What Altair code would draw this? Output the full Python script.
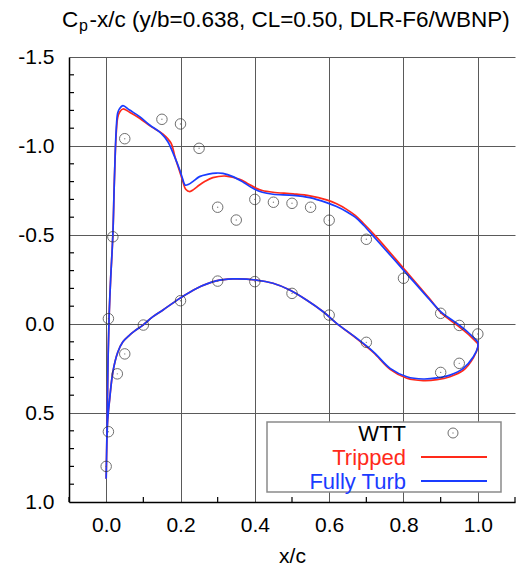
import altair as alt
import pandas as pd

# ---------------- data ----------------
# Fully Turb (blue): from upper-surface TE -> LE -> lower-surface TE
blue_x = [1.0, 0.97, 0.943, 0.9, 0.871, 0.8, 0.728, 0.692, 0.67, 0.647, 0.62, 0.593,
          0.548, 0.503, 0.449, 0.42, 0.395, 0.37, 0.341, 0.314, 0.296, 0.275, 0.251,
          0.233, 0.222, 0.213, 0.205, 0.198, 0.184, 0.166, 0.148, 0.117, 0.09, 0.063,
          0.045, 0.036, 0.031, 0.027, 0.022, 0.018, 0.012, 0.008, 0.005, 0.003, 0.001,
          0.0,
          0.002, 0.004, 0.009, 0.018, 0.031, 0.045, 0.063, 0.076, 0.099, 0.125, 0.153,
          0.198, 0.243, 0.296, 0.341, 0.404, 0.449, 0.494, 0.539, 0.584, 0.62, 0.674,
          0.719, 0.764, 0.809, 0.853, 0.89, 0.925, 0.961, 0.988, 1.0, 1.0]
blue_cp = [0.10, 0.04, -0.004, -0.07, -0.135, -0.303, -0.472, -0.556, -0.60, -0.631,
           -0.66, -0.682, -0.71, -0.723, -0.729, -0.74, -0.762, -0.795, -0.828, -0.846,
           -0.848, -0.842, -0.828, -0.80, -0.785, -0.78, -0.82, -0.865, -0.94, -1.024,
           -1.071, -1.118, -1.165, -1.202, -1.227, -1.21, -1.185, -1.09, -0.8, -0.5,
           -0.25, -0.05, 0.2, 0.5, 0.75,
           0.87,
           0.65, 0.54, 0.43, 0.27, 0.16, 0.10, 0.062, 0.04, 0.006, -0.04, -0.079,
           -0.144, -0.20, -0.242, -0.253, -0.247, -0.229, -0.191, -0.135, -0.069,
           -0.004, 0.08, 0.156, 0.249, 0.296, 0.309, 0.303, 0.287, 0.249, 0.184, 0.13,
           0.10]

# Tripped (red)
red_x = [1.0, 0.97, 0.943, 0.9, 0.871, 0.8, 0.728, 0.692, 0.67, 0.647, 0.62, 0.593,
         0.548, 0.503, 0.449, 0.42, 0.404, 0.38, 0.359, 0.323, 0.287, 0.265, 0.251,
         0.235, 0.225, 0.214, 0.205, 0.198, 0.185, 0.175, 0.153, 0.12, 0.09, 0.063,
         0.045, 0.036, 0.031, 0.027, 0.022, 0.018, 0.012, 0.008, 0.005, 0.003, 0.001,
         0.0,
         0.002, 0.004, 0.009, 0.018, 0.031, 0.045, 0.063, 0.076, 0.099, 0.125, 0.153,
         0.198, 0.243, 0.296, 0.341, 0.404, 0.449, 0.494, 0.539, 0.584, 0.62, 0.674,
         0.719, 0.764, 0.809, 0.853, 0.89, 0.925, 0.961, 0.988, 1.0, 1.0]
red_cp = [0.11, 0.05, 0.005, -0.065, -0.14, -0.313, -0.487, -0.566, -0.61, -0.644,
          -0.675, -0.697, -0.72, -0.731, -0.74, -0.75, -0.762, -0.79, -0.813, -0.831,
          -0.822, -0.80, -0.781, -0.755, -0.744, -0.757, -0.81, -0.856, -0.94, -1.015,
          -1.067, -1.11, -1.156, -1.19, -1.208, -1.19, -1.16, -1.07, -0.8, -0.5,
          -0.25, -0.05, 0.2, 0.5, 0.75,
          0.87,
          0.65, 0.54, 0.43, 0.27, 0.16, 0.10, 0.062, 0.04, 0.006, -0.04, -0.079,
          -0.144, -0.20, -0.242, -0.253, -0.247, -0.229, -0.191, -0.135, -0.069,
          -0.004, 0.082, 0.16, 0.255, 0.305, 0.318, 0.313, 0.296, 0.26, 0.19, 0.13,
          0.11]

# WTT experiment
wtt_x = [0.0, 0.006, 0.03, 0.05, 0.1, 0.2, 0.3, 0.4, 0.5, 0.6, 0.7, 0.9, 0.95,
         0.006, 0.018, 0.05, 0.15, 0.2, 0.25, 0.3, 0.35, 0.4, 0.45, 0.5, 0.55, 0.6,
         0.7, 0.8, 0.9, 0.95, 1.0]
wtt_cp = [0.80, 0.605, 0.28, 0.168, 0.006, -0.131, -0.241, -0.238, -0.172, -0.05,
          0.103, 0.272, 0.221,
          -0.03, -0.49, -1.041, -1.15, -1.124, -0.987, -0.656, -0.584, -0.70, -0.684,
          -0.678, -0.656, -0.583, -0.476, -0.257, -0.06, 0.008, 0.056]

x_major = [0.0, 0.2, 0.4, 0.6, 0.8, 1.0]
y_major = [-1.5, -1.0, -0.5, 0.0, 0.5, 1.0]
x_minor = [-0.1, 0.1, 0.3, 0.5, 0.7, 0.9, 1.1]
y_minor = [-1.4, -1.3, -1.2, -1.1, -0.9, -0.8, -0.7, -0.6, -0.4, -0.3, -0.2, -0.1,
           0.1, 0.2, 0.3, 0.4, 0.6, 0.7, 0.8, 0.9]

legend_labels = ["WTT", "Tripped", "Fully Turb"]
title_main = "C"
title_sub = "p"
title_rest = "-x/c (y/b=0.638, CL=0.50, DLR-F6/WBNP)"

RED = "#ff2a1a"
BLUE = "#1a3cff"
FONT = "Liberation Sans"
W, H = 446, 445

# ---------------- tables ----------------
def sdf(xs, cps):
    return pd.DataFrame({"x": xs, "cp": cps, "i": list(range(len(xs)))})

red_df = sdf(red_x, red_cp)
blue_df = sdf(blue_x, blue_cp)
wtt_df = pd.DataFrame({"x": wtt_x, "cp": wtt_cp})
xmin_df = pd.DataFrame({"x": x_minor})
ymin_df = pd.DataFrame({"cp": y_minor})
one = pd.DataFrame({"k": [0]})

xscale = alt.Scale(domain=[-0.1, 1.1], nice=False, zero=False)
yscale = alt.Scale(domain=[-1.5, 1.0], reverse=True, nice=False, zero=False)

xaxis = alt.Axis(values=x_major, format=".1f", grid=True, ticks=False,
                 gridColor="#5a5a5a", gridWidth=1, domainColor="black",
                 domainWidth=1.5, labelPadding=12, labelFontSize=21,
                 labelFont=FONT, labelColor="black", title="x/c",
                 titleFont=FONT, titleFontSize=21, titleFontWeight="normal",
                 titleColor="black", titlePadding=10)
yaxis = alt.Axis(values=y_major, grid=True, ticks=False,
                 gridColor="#5a5a5a", gridWidth=1, domainColor="black",
                 domainWidth=1.5, labelPadding=15, labelFontSize=21,
                 labelFont=FONT, labelColor="black", title=None,
                 labelExpr="datum.value < 0 ? '-' + format(-datum.value, '.1f') : format(datum.value, '.1f')")


def X(f="x"):
    return alt.X(f"{f}:Q", scale=xscale, axis=xaxis)


def Y(f="cp"):
    return alt.Y(f"{f}:Q", scale=yscale, axis=yaxis)


red_line = alt.Chart(red_df).mark_line(color=RED, strokeWidth=1.7,
                                       interpolate="catmull-rom").encode(
    x=X(), y=Y(), order="i:Q")
blue_line = alt.Chart(blue_df).mark_line(color=BLUE, strokeWidth=1.7,
                                         interpolate="catmull-rom").encode(
    x=X(), y=Y(), order="i:Q")
wtt_pts = alt.Chart(wtt_df).mark_point(shape="circle", size=110, filled=False,
                                       color="#333333", strokeWidth=1).encode(
    x=X(), y=Y())
wtt_dots = alt.Chart(wtt_df).mark_point(shape="circle", size=2, filled=True,
                                        color="#555555").encode(x=X(), y=Y())

xminor = alt.Chart(xmin_df).mark_rule(color="black", strokeWidth=1.2).encode(
    x=X(), y=alt.value(H - 5), y2=alt.value(H))
yminor = alt.Chart(ymin_df).mark_rule(color="black", strokeWidth=1.2).encode(
    y=Y(), x=alt.value(0), x2=alt.value(5))

# ---- custom legend box ----
box = alt.Chart(one).mark_rect(fill="white", stroke="#8a8a8a", strokeWidth=1.5).encode(
    x=alt.value(198), x2=alt.value(432), y=alt.value(365), y2=alt.value(435))
leg_txt_colors = ["black", RED, BLUE]
leg_y = [376, 400, 424]
leg_layers = []
for lab, col, yy in zip(legend_labels, leg_txt_colors, leg_y):
    leg_layers.append(alt.Chart(one).mark_text(
        text=lab, align="right", baseline="middle", font=FONT, fontSize=22,
        color=col).encode(x=alt.value(337), y=alt.value(yy + 1)))
leg_layers.append(alt.Chart(one).mark_point(shape="circle", size=100, filled=False,
                                            color="#333333", strokeWidth=1).encode(
    x=alt.value(384), y=alt.value(376)))
leg_layers.append(alt.Chart(one).mark_point(shape="circle", size=2, filled=True,
                                            color="#555555").encode(
    x=alt.value(384), y=alt.value(376)))
leg_layers.append(alt.Chart(one).mark_rule(color=RED, strokeWidth=1.8).encode(
    x=alt.value(352), x2=alt.value(418), y=alt.value(400)))
leg_layers.append(alt.Chart(one).mark_rule(color=BLUE, strokeWidth=1.8).encode(
    x=alt.value(352), x2=alt.value(418), y=alt.value(424)))

# ---- title with subscript ----
t1 = alt.Chart(one).mark_text(text=title_main, align="left", baseline="alphabetic",
                              font=FONT, fontSize=22.5, color="black").encode(
    x=alt.value(-7), y=alt.value(-30))
t2 = alt.Chart(one).mark_text(text=title_sub, align="left", baseline="alphabetic",
                              font=FONT, fontSize=16, color="black").encode(
    x=alt.value(10), y=alt.value(-26))
t3 = alt.Chart(one).mark_text(text=title_rest, align="left", baseline="alphabetic",
                              font=FONT, fontSize=22.5, color="black").encode(
    x=alt.value(20.5), y=alt.value(-30))

chart = alt.layer(
    xminor, yminor, red_line, blue_line, wtt_pts, wtt_dots, box, *leg_layers,
    t1, t2, t3
).properties(
    width=W, height=H,
    autosize=alt.AutoSizeParams(type="none"),
    padding={"left": 69, "top": 57, "right": 10, "bottom": 70},
    background="white",
).configure_view(strokeWidth=0)

chart.save("out.html", embed_options={"renderer": "svg", "actions": False})
